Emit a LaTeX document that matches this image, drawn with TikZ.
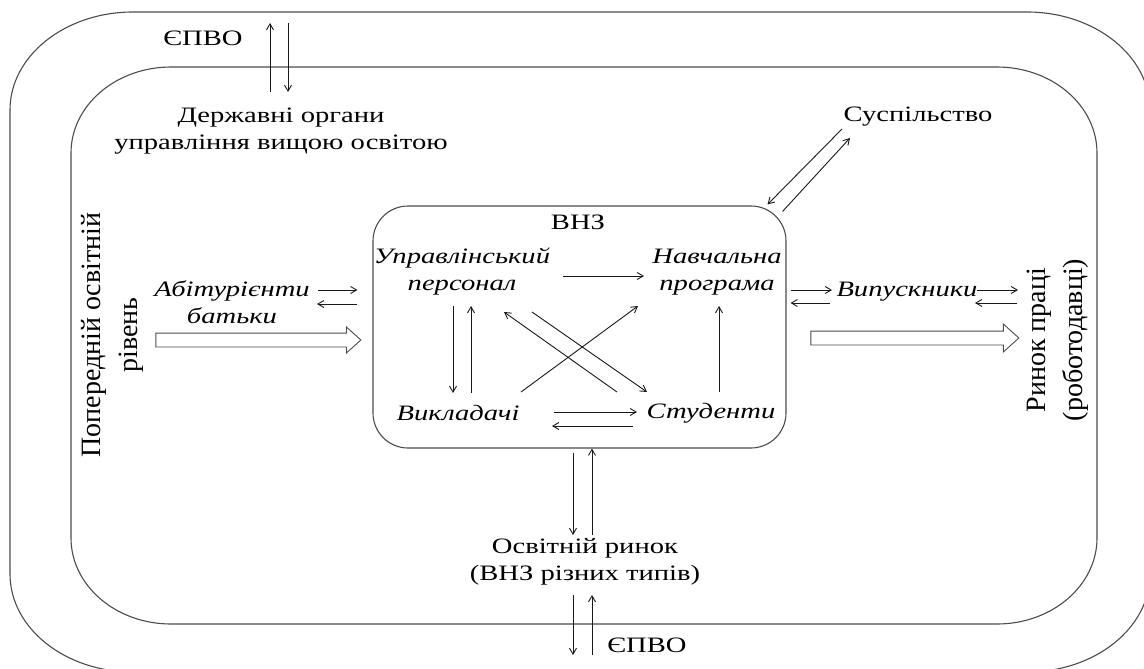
\documentclass[tikz,border=0pt]{standalone}
\usepackage{fontspec}
\setmainfont{Liberation Serif}[FakeStretch=1.3]
\newfontfamily\rotfont{Liberation Serif}
\usetikzlibrary{calc,arrows.meta,shapes.arrows}

\newcommand{\erect}[6]{%
\draw[frame] ({#1+#5},#2) -- ({#3-#5},#2)
 .. controls ({#3-0.448*#5},#2) and (#3,{#2+0.448*#6}) .. (#3,{#2+#6})
 -- (#3,{#4-#6})
 .. controls (#3,{#4-0.448*#6}) and ({#3-0.448*#5},#4) .. ({#3-#5},#4)
 -- ({#1+#5},#4)
 .. controls ({#1+0.448*#5},#4) and (#1,{#4-0.448*#6}) .. (#1,{#4-#6})
 -- (#1,{#2+#6})
 .. controls (#1,{#2+0.448*#6}) and ({#1+0.448*#5},#2) .. ({#1+#5},#2) -- cycle;}

\begin{document}
\begin{tikzpicture}[x=1pt,y=-1pt,
 txt/.style={inner sep=0pt, align=center, font=\fontsize{22}{27}\selectfont},
 itxt/.style={inner sep=0pt, align=center, font=\fontsize{22}{27}\selectfont\itshape},
 rtxt/.style={inner sep=0pt, align=center, rotate=90, font=\rotfont\fontsize{28}{37}\selectfont},
 frame/.style={draw=black!70, line width=1.1pt},
 arr/.style={-{Straight Barb[length=6pt,width=7pt]}, line width=0.9pt, draw=black!90},
 fat/.style={single arrow, draw=black!70, line width=0.9pt, inner xsep=0pt, inner ysep=6.5pt,
   single arrow head extend=6pt, single arrow tip angle=84}]
\clip (0,0) rectangle (1144,669);
\fill[white] (0,0) rectangle (1144,669);

% frames
\erect{10}{12}{1150}{672}{123}{98}
\erect{71}{67}{1097}{624}{100}{86}
\node[frame, rounded corners=35pt, minimum width=413pt, minimum height=242pt, inner sep=0pt] (box) at (579.5,327) {};

% texts
\node[txt] (epvoT) at (203,38) {ЄПВО};
\node[txt] (gov) at (281,131) {Державні органи\\управління вищою освітою};
\node[txt] (susp) at (918,117) {Суспільство};
\node[txt] (vnz) at (578,222) {ВНЗ};
\node[itxt] (upr) at (462,272) {Управлінський\\персонал};
\node[itxt] (nav) at (717,272) {Навчальна\\програма};
\node[itxt] (vyk) at (458,413) {Викладачі};
\node[itxt] (stud) at (711,413) {Студенти};
\node[itxt] (abit) at (232,302) {Абітурієнти\\батьки};
\node[itxt] (vyp) at (907,292) {Випускники};
\node[txt] (osv) at (585,562) {Освітній ринок\\(ВНЗ різних типів)};
\node[txt] (epvoB) at (647,645) {ЄПВО};
\node[rtxt] (prev) at (112,335) {Попередній освітній\\рівень};
\node[rtxt] (rynok) at (1058,340) {Ринок праці\\(роботодавці)};

% fat arrows
\node[fat, minimum height=205pt] (inArrow) at (254.5,340) {};
\node[fat, minimum height=208pt, single arrow head extend=7pt] (outArrow) at (911,338) {};

% inside the university
\draw[arr] ($(upr)+(101,4)$) -- ($(nav)+(-73,4)$);
\draw[arr] ($(upr)+(-9,34)$) -- ($(vyk)+(-5,-20)$);
\draw[arr] ($(vyk)+(13,-20)$) -- ($(upr)+(9,34)$);
\draw[arr] ($(vyk)+(63,-21)$) -- ($(nav)+(-79,34)$);
\draw[arr] ($(stud)+(-94,-21)$) -- ($(upr)+(42,40)$);
\draw[arr] ($(upr)+(70,40)$) -- ($(stud)+(-64,-21)$);
\draw[arr] ($(stud)+(8,-21)$) -- ($(nav)+(2,34)$);
\draw[arr] ($(vyk)+(96,-1)$) -- ($(stud)+(-74,-1)$);
\draw[arr] ($(stud)+(-78,13)$) -- ($(vyk)+(94,13)$);

% left
\draw[arr] ($(abit)+(86,-12)$) -- ($(box.west)+(-15,-37)$);
\draw[arr] ($(box.west)+(-15,-23)$) -- ($(abit)+(85,2)$);

% right
\draw[arr] ($(box.east)+(4,-37)$) -- ($(vyp)+(-75,-2)$);
\draw[arr] ($(vyp)+(-77,11)$) -- ($(box.east)+(4,-24)$);
\draw[arr] ($(vyp)+(70,-2)$) -- ($(rynok)+(-40,-50)$);
\draw[arr] ($(rynok)+(-41,-37)$) -- ($(vyp)+(68,11)$);

% society
\draw[arr] ($(susp)+(-76,12)$) -- ($(box.north east)+(-19,-1)$);
\draw[arr] ($(box.north east)+(-4,6)$) -- ($(susp)+(-68,21)$);

% top
\draw[arr] ($(gov)+(-11,-39)$) -- ($(epvoT)+(67,-15)$);
\draw[arr] ($(epvoT)+(85,-15)$) -- ($(gov)+(7,-39)$);

% bottom
\draw[arr] ($(box.south)+(-6.5,4)$) -- ($(osv)+(-12,-27)$);
\draw[arr] ($(osv)+(7,-27)$) -- ($(box.south)+(12.5,0)$);
\draw[arr] ($(osv)+(-12,33)$) -- ($(epvoB)+(-74,10)$);
\draw[arr] ($(epvoB)+(-55,10)$) -- ($(osv)+(7,33)$);
\end{tikzpicture}
\end{document}
